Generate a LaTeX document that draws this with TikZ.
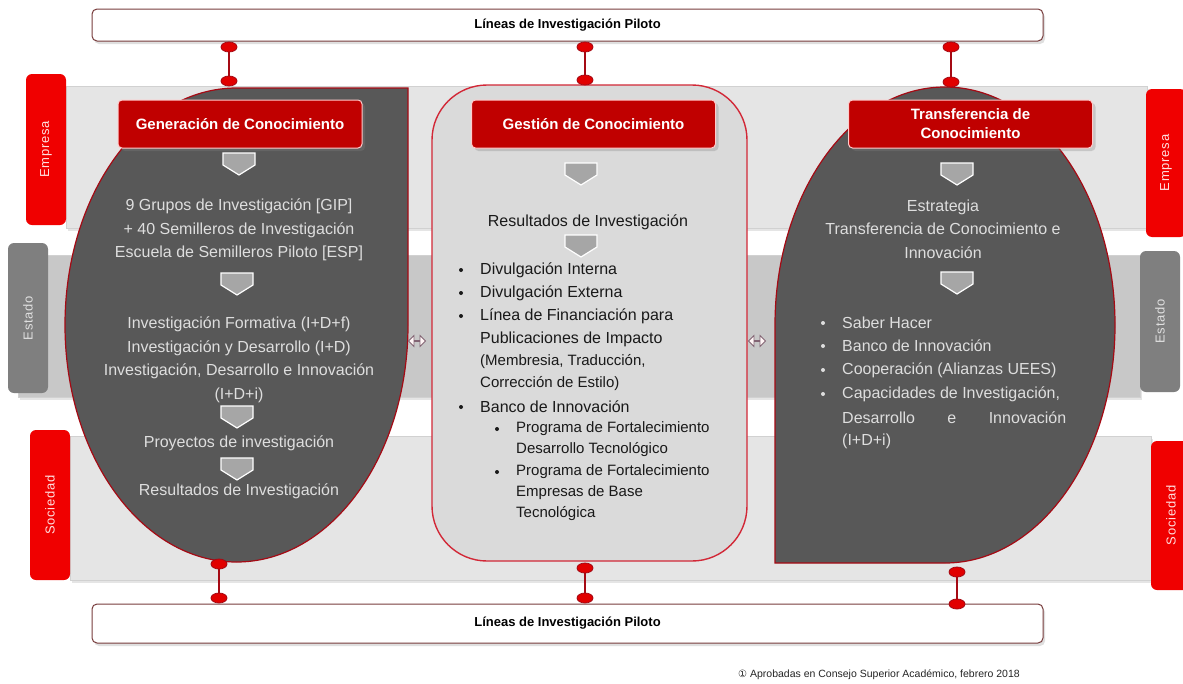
\documentclass[tikz,border=0pt]{standalone}
\usepackage{fontspec}
\setmainfont{Liberation Sans}
\newfontfamily\symfont{DejaVu Sans}
\usetikzlibrary{shapes.arrows,shadows}

\definecolor{darkfill}{RGB}{88,88,88}
\definecolor{lighttext}{RGB}{222,222,222}
\definecolor{headred}{RGB}{192,0,0}
\definecolor{tabred}{RGB}{240,0,0}
\definecolor{edgered}{RGB}{165,10,20}
\definecolor{midfill}{RGB}{218,218,218}
\definecolor{midred}{RGB}{210,40,55}
\definecolor{bandlight}{RGB}{229,229,229}
\definecolor{bandmid}{RGB}{200,200,200}
\definecolor{tabgray}{RGB}{127,127,127}
\definecolor{barline}{RGB}{120,60,60}
\definecolor{dotred}{RGB}{225,0,0}
\definecolor{arrowline}{RGB}{130,100,115}

\tikzset{
  band/.style={fill=#1, draw=black!18, line width=0.6pt,
    drop shadow={opacity=0.2, shadow xshift=2pt, shadow yshift=-3pt}},
  redtab/.style={fill=tabred, rounded corners=6pt, text=red!12, rotate=90,
    minimum height=40pt, inner sep=0pt,
    font=\fontsize{13}{13}\selectfont\addfontfeatures{LetterSpace=6}},
  graytab/.style={redtab, fill=tabgray, text=black!12},
  header/.style={fill=headred, draw=red!20, line width=1pt, rounded corners=4pt,
    text=white, font=\fontsize{15}{19}\selectfont\bfseries, align=center,
    minimum width=244pt, minimum height=48pt,
    drop shadow={opacity=0.3, shadow xshift=3pt, shadow yshift=-3pt}},
  bar/.style={fill=white, draw=barline, line width=1pt, rounded corners=5pt,
    minimum width=951pt, font=\fontsize{13}{13}\selectfont\bfseries,
    drop shadow={opacity=0.25, shadow xshift=2pt, shadow yshift=-3pt}},
  darkshape/.style={fill=darkfill, draw=edgered, line width=1.2pt},
  midbox/.style={fill=midfill, draw=midred, line width=1.4pt, rounded corners=55pt},
  chev/.style={fill=black!35, draw=white, line width=1.2pt},
  dot/.style={fill=dotred, draw=edgered, line width=0.8pt},
  link/.style={draw=edgered, line width=2.2pt},
  lighttxt/.style={text=lighttext, font=\fontsize{16}{23.5}\selectfont, align=center},
  darktxt/.style={text=black!90, font=\fontsize{16}{23}\selectfont, anchor=west, inner sep=0pt},
  subtxt/.style={darktxt, font=\fontsize{15}{21}\selectfont},
  righttxt/.style={darktxt, text=lighttext},
  dblarrow/.style={double arrow, draw=arrowline, fill=red!4, line width=0.8pt,
    minimum height=17pt, minimum width=11pt, double arrow head extend=3.5pt, inner sep=0pt},
  foot/.style={font=\fontsize{10.5}{11}\selectfont, text=black!85}
}

\begin{document}
\begin{tikzpicture}[x=1pt,y=-1pt]
  \useasboundingbox (0,0) rectangle (1183,683);
  \fill[white] (0,0) rectangle (1183,683);

  % Background bands: Empresa, Estado, Sociedad
  \path[band=bandlight] (66,86) rectangle (1147,228);
  \path[band=bandmid] (18,255) rectangle (1140,397);
  \path[band=bandlight] (70,436) rectangle (1151,580);

  % Side tabs
  \node[redtab, minimum width=151pt] (empL) at (46,149.5) {Empresa};
  \node[redtab, minimum width=148pt] (empR) at (1166,163) {Empresa};
  \node[graytab, minimum width=150pt] (estL) at (28,318) {Estado};
  \node[graytab, minimum width=141pt] (estR) at (1160,321.5) {Estado};
  \node[redtab, minimum width=150pt] (socL) at (50,505) {Sociedad};
  \node[redtab, minimum width=149pt] (socR) at (1171,515.5) {Sociedad};

  % The three blocks
  \draw[darkshape] (408,88) -- (236.5,88)
    arc[start angle=270, end angle=0, x radius=171.5, y radius=237] -- cycle;
  \draw[midbox] (432,85) rectangle (747,561);
  \draw[darkshape] (775,563) -- (945,563)
    arc[start angle=90, end angle=-180, x radius=170, y radius=238] -- cycle;

  % Block titles
  \node[header] (gen) at (240,124) {Generación de Conocimiento};
  \node[header] (gest) at (593.5,124) {Gestión de Conocimiento};
  \node[header] (trans) at (970.5,124) {Transferencia de\\Conocimiento};

  % Down chevrons
  \foreach \cx/\cy in {239/164, 237/284, 237/417, 237/469, 581/174, 581/246, 957/174, 957/283}
    \draw[chev] (\cx-16,\cy-11) -- (\cx+16,\cy-11) -- (\cx+16,\cy+1)
      -- (\cx,\cy+11) -- (\cx-16,\cy+1) -- cycle;

  % Left block text
  \node[lighttxt] (gip) at (239,230) {9 Grupos de Investigación [GIP]\\+ 40 Semilleros de Investigación\\Escuela de Semilleros Piloto [ESP]};
  \node[lighttxt] (idi) at (239,360) {Investigación Formativa (I+D+f)\\Investigación y Desarrollo (I+D)\\Investigación, Desarrollo e Innovación\\(I+D+i)};
  \node[lighttxt] (proy) at (239,443) {Proyectos de investigación};
  \node[lighttxt] (resL) at (239,491) {Resultados de Investigación};

  % Middle block text
  \node[darktxt, anchor=center] (resM) at (588,222) {Resultados de Investigación};
  \foreach \y/\t [count=\i] in {270/{Divulgación Interna}, 293/{Divulgación Externa},
      316/{Línea de Financiación para}, 339/{Publicaciones de Impacto}, 407/{Banco de Innovación}}
    \node[darktxt] (mid\i) at (480,\y) {\t};
  \node[subtxt] (memb) at (480,362) {(Membresia, Traducción,};
  \node[subtxt] (corr) at (480,384) {Corrección de Estilo)};
  \foreach \y/\t [count=\i] in {429/{Programa de Fortalecimiento}, 450/{Desarrollo Tecnológico},
      472/{Programa de Fortalecimiento}, 493/{Empresas de Base}, 514/{Tecnológica}}
    \node[subtxt] (sub\i) at (516,\y) {\t};
  \foreach \bx/\by in {461/270, 461/293, 461/316, 461/407, 497/429, 497/472}
    \fill[black!90] (\bx,\by) circle (2);

  % Right block text
  \node[lighttxt] (estr) at (943,229) {Estrategia\\Transferencia de Conocimiento e\\Innovación};
  \foreach \y/\t [count=\i] in {323/{Saber Hacer}, 346/{Banco de Innovación},
      370/{Cooperación (Alianzas UEES)}, 394/{Capacidades de Investigación,},
      418/{\makebox[224pt][s]{Desarrollo e Innovación}}, 441/{(I+D+i)}}
    \node[righttxt] (rt\i) at (842,\y) {\t};
  \foreach \by in {323, 346, 370, 394}
    \fill[lighttext] (823,\by) circle (2);

  % Exchange arrows between blocks
  \node[dblarrow] (arrL) at (417,341) {};
  \node[dblarrow] (arrR) at (757,341) {};

  % Top and bottom bars
  \node[bar, minimum height=32pt] (top) at (567.5,25) {Líneas de Investigación Piloto};
  \node[bar, minimum height=39pt] (bot) at (567.5,623.5) {Líneas de Investigación Piloto};

  % Connectors with end dots
  \coordinate (t1-a) at (229,47);  \coordinate (t1-b) at (229,81);
  \coordinate (t2-a) at (585,47);  \coordinate (t2-b) at (585,80);
  \coordinate (t3-a) at (951,47);  \coordinate (t3-b) at (951,82);
  \coordinate (b1-a) at (219,564); \coordinate (b1-b) at (219,598);
  \coordinate (b2-a) at (585,568); \coordinate (b2-b) at (585,598);
  \coordinate (b3-a) at (957,572); \coordinate (b3-b) at (957,604);
  \foreach \c in {t1,t2,t3,b1,b2,b3} {
    \draw[link] (\c-a) -- (\c-b);
    \draw[dot] (\c-a) ellipse (8 and 5);
    \draw[dot] (\c-b) ellipse (8 and 5);
  }

  % Footnote
  \node[foot] (note) at (879,675) {{\symfont\fontsize{10}{10}\selectfont ①} Aprobadas en Consejo Superior Académico, febrero 2018};
\end{tikzpicture}
\end{document}
